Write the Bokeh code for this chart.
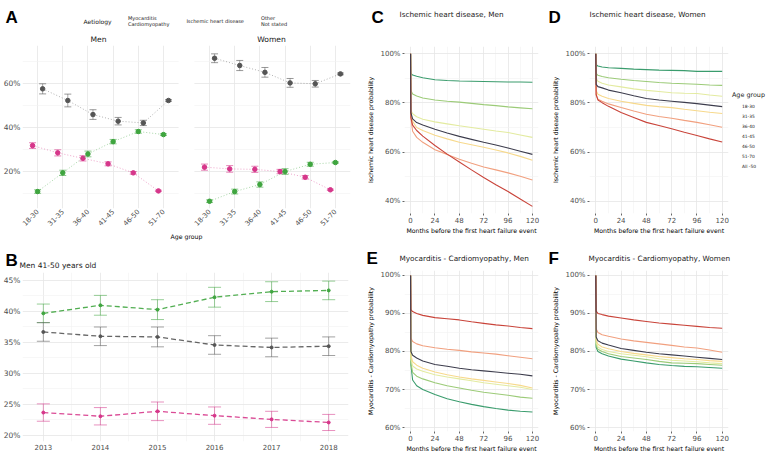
import math
from bokeh.plotting import figure
from bokeh.layouts import row, column
from bokeh.models import (ColumnDataSource, FactorRange, Range1d, FixedTicker,
                          PrintfTickFormatter, Legend, LegendItem, BoxAnnotation)
from bokeh.transform import dodge
from bokeh.core.properties import value
from bokeh.embed import file_html
from bokeh.resources import INLINE

# ---------------- data: panel A ----------------
age_groups = ["18-30", "31-35", "36-40", "41-45", "46-50", "51-70"]
sexes = ["Men", "Women"]
aetiologies = ["Myocarditis\nCardiomyopathy", "Ischemic heart disease", "Other\nNot stated"]

men_myo = [31.8, 28.5, 26.0, 23.5, 19.4, 11.2]
men_myo_err = [1.3, 1.4, 1.2, 0.9, 0.6, 0.3]
men_ihd = [10.9, 19.4, 28.0, 33.6, 38.2, 36.8]
men_ihd_err = [0.8, 1.2, 1.3, 1.0, 0.8, 0.4]
men_other = [57.6, 52.3, 45.9, 42.9, 42.1, 52.3]
men_other_err = [2.3, 2.9, 2.2, 1.7, 1.2, 0.4]
women_myo = [22.0, 21.2, 21.0, 20.0, 17.4, 11.7]
women_myo_err = [1.4, 1.5, 1.4, 1.0, 0.8, 0.3]
women_ihd = [6.5, 10.9, 14.1, 20.0, 23.3, 24.1]
women_ihd_err = [0.6, 1.1, 1.2, 1.3, 0.9, 0.3]
women_other = [71.5, 68.2, 65.1, 60.3, 59.9, 64.4]
women_other_err = [2.0, 2.3, 2.2, 2.0, 1.5, 0.4]

# ---------------- data: panel B (Men 41-50) ----------------
years = [2013, 2014, 2015, 2016, 2017, 2018]
b_myo = [23.7, 23.1, 23.9, 23.2, 22.6, 22.1]
b_myo_err = [1.4, 1.4, 1.5, 1.4, 1.3, 1.3]
b_ihd = [39.7, 41.0, 40.3, 42.3, 43.2, 43.4]
b_ihd_err = [1.5, 1.6, 1.6, 1.6, 1.6, 1.5]
b_other = [36.7, 36.0, 35.9, 34.6, 34.2, 34.4]
b_other_err = [1.5, 1.5, 1.6, 1.5, 1.5, 1.5]

# ---------------- data: panels C-F ----------------
curve_groups = ["18-30", "31-35", "36-40", "41-45", "46-50", "51-70", "All -50"]
months = [0, 0.3, 2, 6, 12, 24, 36, 48, 60, 72, 84, 96, 108, 120]

ihd_men = [
    [100, 92.0, 91.3, 90.8, 90.2, 89.4, 89.1, 88.9, 88.8, 88.7, 88.6, 88.5, 88.5, 88.4],
    [100, 85.0, 83.6, 82.8, 82.0, 81.2, 80.7, 80.3, 79.8, 79.3, 78.9, 78.4, 78.0, 77.6],
    [100, 77.0, 75.6, 74.4, 73.4, 72.3, 71.5, 70.7, 70.0, 69.3, 68.6, 68.0, 67.0, 66.0],
    [100, 75.5, 72.5, 70.0, 68.8, 66.9, 65.4, 64.0, 63.0, 62.0, 60.9, 59.7, 58.3, 56.7],
    [100, 74.0, 68.5, 66.0, 64.0, 61.0, 59.1, 57.1, 55.5, 54.0, 52.8, 51.6, 50.2, 48.7],
    [100, 74.0, 71.0, 68.8, 66.5, 62.7, 59.2, 56.0, 52.8, 49.7, 46.8, 44.0, 41.0, 38.0],
    [100, 76.0, 73.5, 72.0, 71.0, 69.3, 67.8, 66.4, 65.2, 64.0, 62.9, 61.7, 60.4, 59.1],
]
ihd_women = [
    [100, 95.5, 95.0, 94.6, 94.3, 94.0, 93.7, 93.5, 93.3, 93.2, 93.1, 92.8, 92.8, 92.8],
    [100, 92.0, 91.2, 90.7, 90.2, 89.6, 89.1, 88.7, 88.3, 88.0, 87.8, 87.6, 87.3, 87.1],
    [100, 90.0, 88.8, 88.0, 87.3, 86.5, 85.7, 85.1, 84.6, 84.1, 83.9, 83.8, 83.2, 82.7],
    [100, 85.0, 83.5, 82.7, 81.8, 80.7, 79.8, 79.0, 78.5, 78.1, 77.4, 76.8, 76.2, 75.7],
    [100, 83.0, 81.5, 80.7, 79.6, 78.1, 76.7, 75.4, 74.5, 73.8, 72.9, 72.1, 71.1, 70.1],
    [100, 83.5, 81.2, 80.1, 78.6, 76.1, 74.1, 72.1, 70.8, 69.5, 68.1, 66.8, 65.4, 64.1],
    [100, 87.5, 86.6, 86.1, 85.2, 84.1, 82.9, 81.8, 81.2, 80.7, 80.2, 79.7, 79.1, 78.5],
]
mc_men = [
    [100, 76.5, 72.5, 71.0, 70.0, 68.7, 67.6, 66.8, 66.1, 65.5, 65.0, 64.6, 64.3, 64.1],
    [100, 77.0, 74.5, 73.5, 72.8, 71.8, 71.0, 70.4, 69.8, 69.3, 68.9, 68.5, 68.0, 67.7],
    [100, 78.0, 76.2, 75.4, 74.8, 73.9, 73.3, 72.8, 72.3, 71.8, 71.4, 71.0, 70.6, 70.0],
    [100, 79.0, 77.3, 76.4, 75.6, 74.6, 73.9, 73.3, 72.8, 72.4, 72.0, 71.6, 71.1, 70.4],
    [100, 83.5, 82.6, 82.0, 81.5, 81.0, 80.6, 80.3, 79.9, 79.6, 79.3, 78.9, 78.5, 78.1],
    [100, 91.0, 90.5, 90.0, 89.5, 88.9, 88.6, 88.3, 87.8, 87.4, 87.0, 86.7, 86.3, 86.0],
    [100, 80.0, 79.0, 78.3, 77.5, 76.6, 76.1, 75.6, 75.2, 74.9, 74.6, 74.3, 74.0, 73.6],
]
mc_women = [
    [100, 81.1, 80.0, 79.4, 78.8, 78.0, 77.5, 77.0, 76.6, 76.3, 76.1, 76.0, 75.8, 75.6],
    [100, 81.7, 80.6, 80.0, 79.4, 78.7, 78.3, 77.9, 77.4, 77.0, 76.9, 76.8, 76.6, 76.4],
    [100, 82.3, 81.2, 80.5, 80.0, 79.4, 79.0, 78.6, 78.1, 77.7, 77.5, 77.3, 77.0, 76.8],
    [100, 83.0, 81.9, 81.2, 80.7, 80.0, 79.5, 79.1, 78.7, 78.4, 78.1, 77.9, 77.6, 77.4],
    [100, 86.0, 85.0, 84.4, 84.0, 83.3, 82.8, 82.4, 82.0, 81.6, 81.2, 80.9, 80.4, 79.8],
    [100, 90.6, 90.0, 89.7, 89.3, 88.8, 88.3, 87.9, 87.5, 87.2, 86.9, 86.6, 86.3, 86.1],
    [100, 83.8, 82.8, 82.2, 81.7, 80.8, 80.3, 79.8, 79.4, 79.1, 78.8, 78.5, 78.2, 77.9],
]

# ---------------- style ----------------
FONT = "DejaVu Sans"
LETTER_FONT = "Liberation Sans"
INK = "#1a1a1a"
TICK_INK = "#4d4d4d"
GRID = "#e6e6e6"
GRID_MINOR = "#f2f2f2"
AET_COLORS = ["#d6368a", "#3fa53f", "#555555"]
AGE_COLORS = ["#3a9c6d", "#9ccb78", "#e3eba0", "#f7d98c", "#f1a07f", "#c9443a", "#3d3d4d"]


def make_fig(w, h, xr, yr, l, r, t, b):
    p = figure(width=w, height=h, x_range=xr, y_range=yr, title=None,
               output_backend="svg", toolbar_location=None, frame_align=False,
               min_border_left=l, min_border_right=r, min_border_top=t, min_border_bottom=b)
    p.outline_line_color = None
    p.border_fill_color = "white"
    p.background_fill_color = "white"
    for ax in (p.xaxis[0], p.yaxis[0]):
        ax.axis_line_color = None
        ax.major_tick_line_color = None
        ax.minor_tick_line_color = None
        ax.major_tick_out = 0
        ax.major_tick_in = 0
        ax.minor_tick_out = 0
        ax.minor_tick_in = 0
        ax.major_label_text_font = FONT
        ax.major_label_text_color = TICK_INK
        ax.major_label_text_font_size = "7.5px"
        ax.axis_label_text_font = FONT
        ax.axis_label_text_font_style = "normal"
        ax.axis_label_text_color = "black"
        ax.axis_label_text_font_size = "6.2px"
    for g in (p.xgrid[0], p.ygrid[0]):
        g.grid_line_color = GRID
        g.grid_line_width = 0.8
        g.minor_grid_line_color = GRID_MINOR
        g.minor_grid_line_width = 0.6
    return p


def header(w, h):
    """A blank strip whose frame is its whole canvas; texts are placed in pixels."""
    p = figure(width=w, height=h, x_range=Range1d(0, w), y_range=Range1d(h, 0),
               x_axis_type=None, y_axis_type=None, title=None,
               output_backend="svg", toolbar_location=None, frame_align=False,
               min_border_left=0, min_border_right=0, min_border_top=0, min_border_bottom=0)
    p.outline_line_color = None
    p.border_fill_color = "white"
    p.background_fill_color = "white"
    return p


def htext(p, x, y, text, size, font=FONT, style="normal", color=INK,
          align="left", baseline="middle"):
    p.text(x=[x], y=[y], text=[text], text_font=value(font), text_font_size=value(size),
           text_font_style=style, text_color=color, text_align=align, text_baseline=baseline)


def letter(p, x, y, text):
    htext(p, x, y, text, "17px", font=LETTER_FONT, style="bold", color="black",
          baseline="alphabetic")


# ================= Panel A =================
hdrA = header(364, 45)
A_GAP = 0.83
n_age = len(age_groups)
n_fac = len(sexes) * n_age
xrA = FactorRange(factors=[(s, a) for s in sexes for a in age_groups],
                  group_padding=A_GAP, range_padding=0.2 / (n_fac + A_GAP),
                  range_padding_units="percent")
yrA = Range1d(3.2, 77.3)
pA = make_fig(364, 200, xrA, yrA, 19, 14, 0, 37)

axA = pA.xaxis[0]
axA.major_label_orientation = math.pi / 4
axA.major_label_text_font_size = "6.8px"
axA.group_text_font_size = "0px"
axA.group_text_color = None
axA.separator_line_color = None
axA.axis_label = "Age group"
axA.axis_label_standoff = 2
axA.major_label_standoff = 2
ayA = pA.yaxis[0]
ayA.ticker = FixedTicker(ticks=[20, 40, 60], minor_ticks=[10, 30, 50, 70])
ayA.formatter = PrintfTickFormatter(format="%d%%")
ayA.major_label_standoff = 2

# blank strip between the two facets
pA.add_layout(BoxAnnotation(left=n_age + 0.1, right=n_age + A_GAP - 0.1,
                            fill_color="white", fill_alpha=1.0, line_color=None,
                            level="underlay"))

A_DODGE = [-0.2, 0.0, 0.2]
a_values = {
    "Men": [(men_myo, men_myo_err), (men_ihd, men_ihd_err), (men_other, men_other_err)],
    "Women": [(women_myo, women_myo_err), (women_ihd, women_ihd_err), (women_other, women_other_err)],
}
for i, color in enumerate(AET_COLORS):
    xd = dodge("x", A_DODGE[i], range=xrA)
    for sex in sexes:
        vals, errs = a_values[sex][i]
        src = ColumnDataSource(dict(
            x=[(sex, a) for a in age_groups], y=vals,
            lo=[v - e for v, e in zip(vals, errs)],
            hi=[v + e for v, e in zip(vals, errs)]))
        pA.line(x=xd, y="y", source=src, line_color=color, line_alpha=0.45,
                line_width=1, line_dash="1 2")
        pA.segment(x0=xd, y0="lo", x1=xd, y1="hi", source=src, line_color=color,
                   line_alpha=0.5, line_width=1)
        for col in ("lo", "hi"):
            pA.scatter(x=xd, y=col, source=src, marker="dash", size=7,
                       line_color=color, line_alpha=0.6, line_width=1)
        pA.scatter(x=xd, y="y", source=src, marker="circle", size=4.5,
                   fill_color=color, line_color=color)

# header of A: letter, legend, facet strips
items_A = []
for name, color in zip(aetiologies, AET_COLORS):
    ln = hdrA.line(x=[], y=[], line_color=color, line_alpha=0.7, line_width=1)
    pt = hdrA.scatter(x=[], y=[], marker="circle", size=4.5, fill_color=color, line_color=color)
    items_A.append(LegendItem(label=name, renderers=[ln, pt]))
hdrA.add_layout(Legend(items=items_A, orientation="horizontal", location=(117, 18.5),
                       padding=0, margin=0, spacing=6, glyph_width=8, glyph_height=12,
                       label_height=12, label_width=10, label_standoff=3,
                       label_text_font=FONT, label_text_font_size="5px",
                       label_text_color=INK, background_fill_alpha=0,
                       border_line_color=None))
letter(hdrA, 5, 17, "A")
htext(hdrA, 83, 20.5, "Aetiology", "6px")
htext(hdrA, 98, 39, "Men", "7.6px", align="center")
htext(hdrA, 271, 39, "Women", "7.6px", align="center")

# ================= Panel B =================
hdrB = header(364, 27)
letter(hdrB, 5, 15, "B")
htext(hdrB, 19, 20, "Men 41-50 years old", "7.5px")

xrB = Range1d(2012.635, 2018.347)
yrB = Range1d(19.03, 46.29)
pB = make_fig(364, 182, xrB, yrB, 19, 16, 0, 13)
pB.xaxis[0].ticker = FixedTicker(ticks=years, minor_ticks=[y + 0.5 for y in years[:-1]])
pB.xaxis[0].major_label_text_font_size = "7px"
pB.xaxis[0].major_label_standoff = 2
pB.yaxis[0].ticker = FixedTicker(ticks=[20, 25, 30, 35, 40, 45],
                                 minor_ticks=[22.5, 27.5, 32.5, 37.5, 42.5])
pB.yaxis[0].formatter = PrintfTickFormatter(format="%d%%")
pB.yaxis[0].major_label_standoff = 2

b_series = [(b_myo, b_myo_err), (b_ihd, b_ihd_err), (b_other, b_other_err)]
for (vals, errs), color in zip(b_series, AET_COLORS):
    src = ColumnDataSource(dict(x=years, y=vals,
                                lo=[v - e for v, e in zip(vals, errs)],
                                hi=[v + e for v, e in zip(vals, errs)]))
    pB.segment(x0="x", y0="lo", x1="x", y1="hi", source=src, line_color=color,
               line_alpha=0.5, line_width=1)
    for col in ("lo", "hi"):
        pB.scatter(x="x", y=col, source=src, marker="dash", size=13,
                   line_color=color, line_alpha=0.55, line_width=1)
    pB.line(x="x", y="y", source=src, line_color=color, line_width=1.3,
            line_alpha=0.9, line_dash="5 3")
    pB.scatter(x="x", y="y", source=src, marker="circle", size=3,
               fill_color=color, line_color=color)


# ================= Panels C-F =================
def curve_fig(w, h, l, r, yr, yticks, yminor, series, ytitle):
    p = make_fig(w, h, Range1d(-6, 126), Range1d(*yr), l, r, 0, 20)
    xa, ya = p.xaxis[0], p.yaxis[0]
    xa.ticker = FixedTicker(ticks=[0, 24, 48, 72, 96, 120], minor_ticks=[12, 36, 60, 84, 108])
    ya.ticker = FixedTicker(ticks=yticks, minor_ticks=yminor)
    ya.formatter = PrintfTickFormatter(format="%d%%")
    for ax in (xa, ya):
        ax.major_tick_line_color = "#666666"
        ax.major_tick_out = 2
        ax.major_label_text_font_size = "7px"
        ax.major_label_standoff = 2
    xa.major_label_standoff = 1
    xa.axis_label = "Months before the first heart failure event"
    xa.axis_label_standoff = 1
    ya.axis_label = ytitle
    ya.axis_label_standoff = 3
    rends = []
    for vals, color in zip(series, AGE_COLORS):
        src = ColumnDataSource(dict(m=months, s=vals))
        rends.append(p.line(x="m", y="s", source=src, line_color=color, line_width=1.1))
    return p, rends


YR_IHD = (35.1, 102.9)
YR_MC = (58.97, 101.29)
IHD_T, IHD_M = [40, 60, 80, 100], [50, 70, 90]
MC_T, MC_M = [60, 70, 80, 90, 100], [65, 75, 85, 95]
IHD_Y = "Ischemic heart disease probability"
MC_Y = "Myocarditis - Cardiomyopathy probability"

hdrC = header(182, 46)
letter(hdrC, 7, 17, "C")
htext(hdrC, 35, 14, "Ischemic heart disease, Men", "7.3px")
pC, _ = curve_fig(182, 190, 35, 8, YR_IHD, IHD_T, IHD_M, ihd_men, IHD_Y)

hdrE = header(182, 34)
letter(hdrE, 2, 22, "E")
htext(hdrE, 35, 22, "Myocarditis - Cardiomyopathy, Men", "7.3px")
pE, _ = curve_fig(182, 184, 35, 8, YR_MC, MC_T, MC_M, mc_men, MC_Y)

hdrD = header(224, 46)
letter(hdrD, 2, 17, "D")
htext(hdrD, 43, 14, "Ischemic heart disease, Women", "7.3px")
pD, _ = curve_fig(184, 190, 43, 2, YR_IHD, IHD_T, IHD_M, ihd_women, IHD_Y)

# legend strip to the right of D
legD = header(40, 190)
items_D = []
for g, color in zip(curve_groups, AGE_COLORS):
    r = legD.line(x=[], y=[], line_color=color, line_width=1.1)
    items_D.append(LegendItem(label=g, renderers=[r]))
legD.add_layout(Legend(items=items_D, location=(2, 65), title="Age group",
                       title_text_font=FONT, title_text_font_size="6.4px",
                       title_text_font_style="normal", title_text_color=INK,
                       title_standoff=3, padding=0, margin=0, spacing=1,
                       glyph_width=7, glyph_height=9, label_height=9, label_width=8,
                       label_standoff=3, label_text_font=FONT,
                       label_text_font_size="4.4px", label_text_color=INK,
                       background_fill_alpha=0, border_line_color=None))

hdrF = header(224, 34)
letter(hdrF, 2, 22, "F")
htext(hdrF, 42, 22, "Myocarditis - Cardiomyopathy, Women", "7.3px")
pF, _ = curve_fig(224, 184, 43, 42, YR_MC, MC_T, MC_M, mc_women, MC_Y)

layout = row(column(hdrA, pA, hdrB, pB),
             column(hdrC, pC, hdrE, pE),
             column(hdrD, row(pD, legD), hdrF, pF))
open("out.html", "w").write(file_html(layout, INLINE, "Heart failure aetiology"))
